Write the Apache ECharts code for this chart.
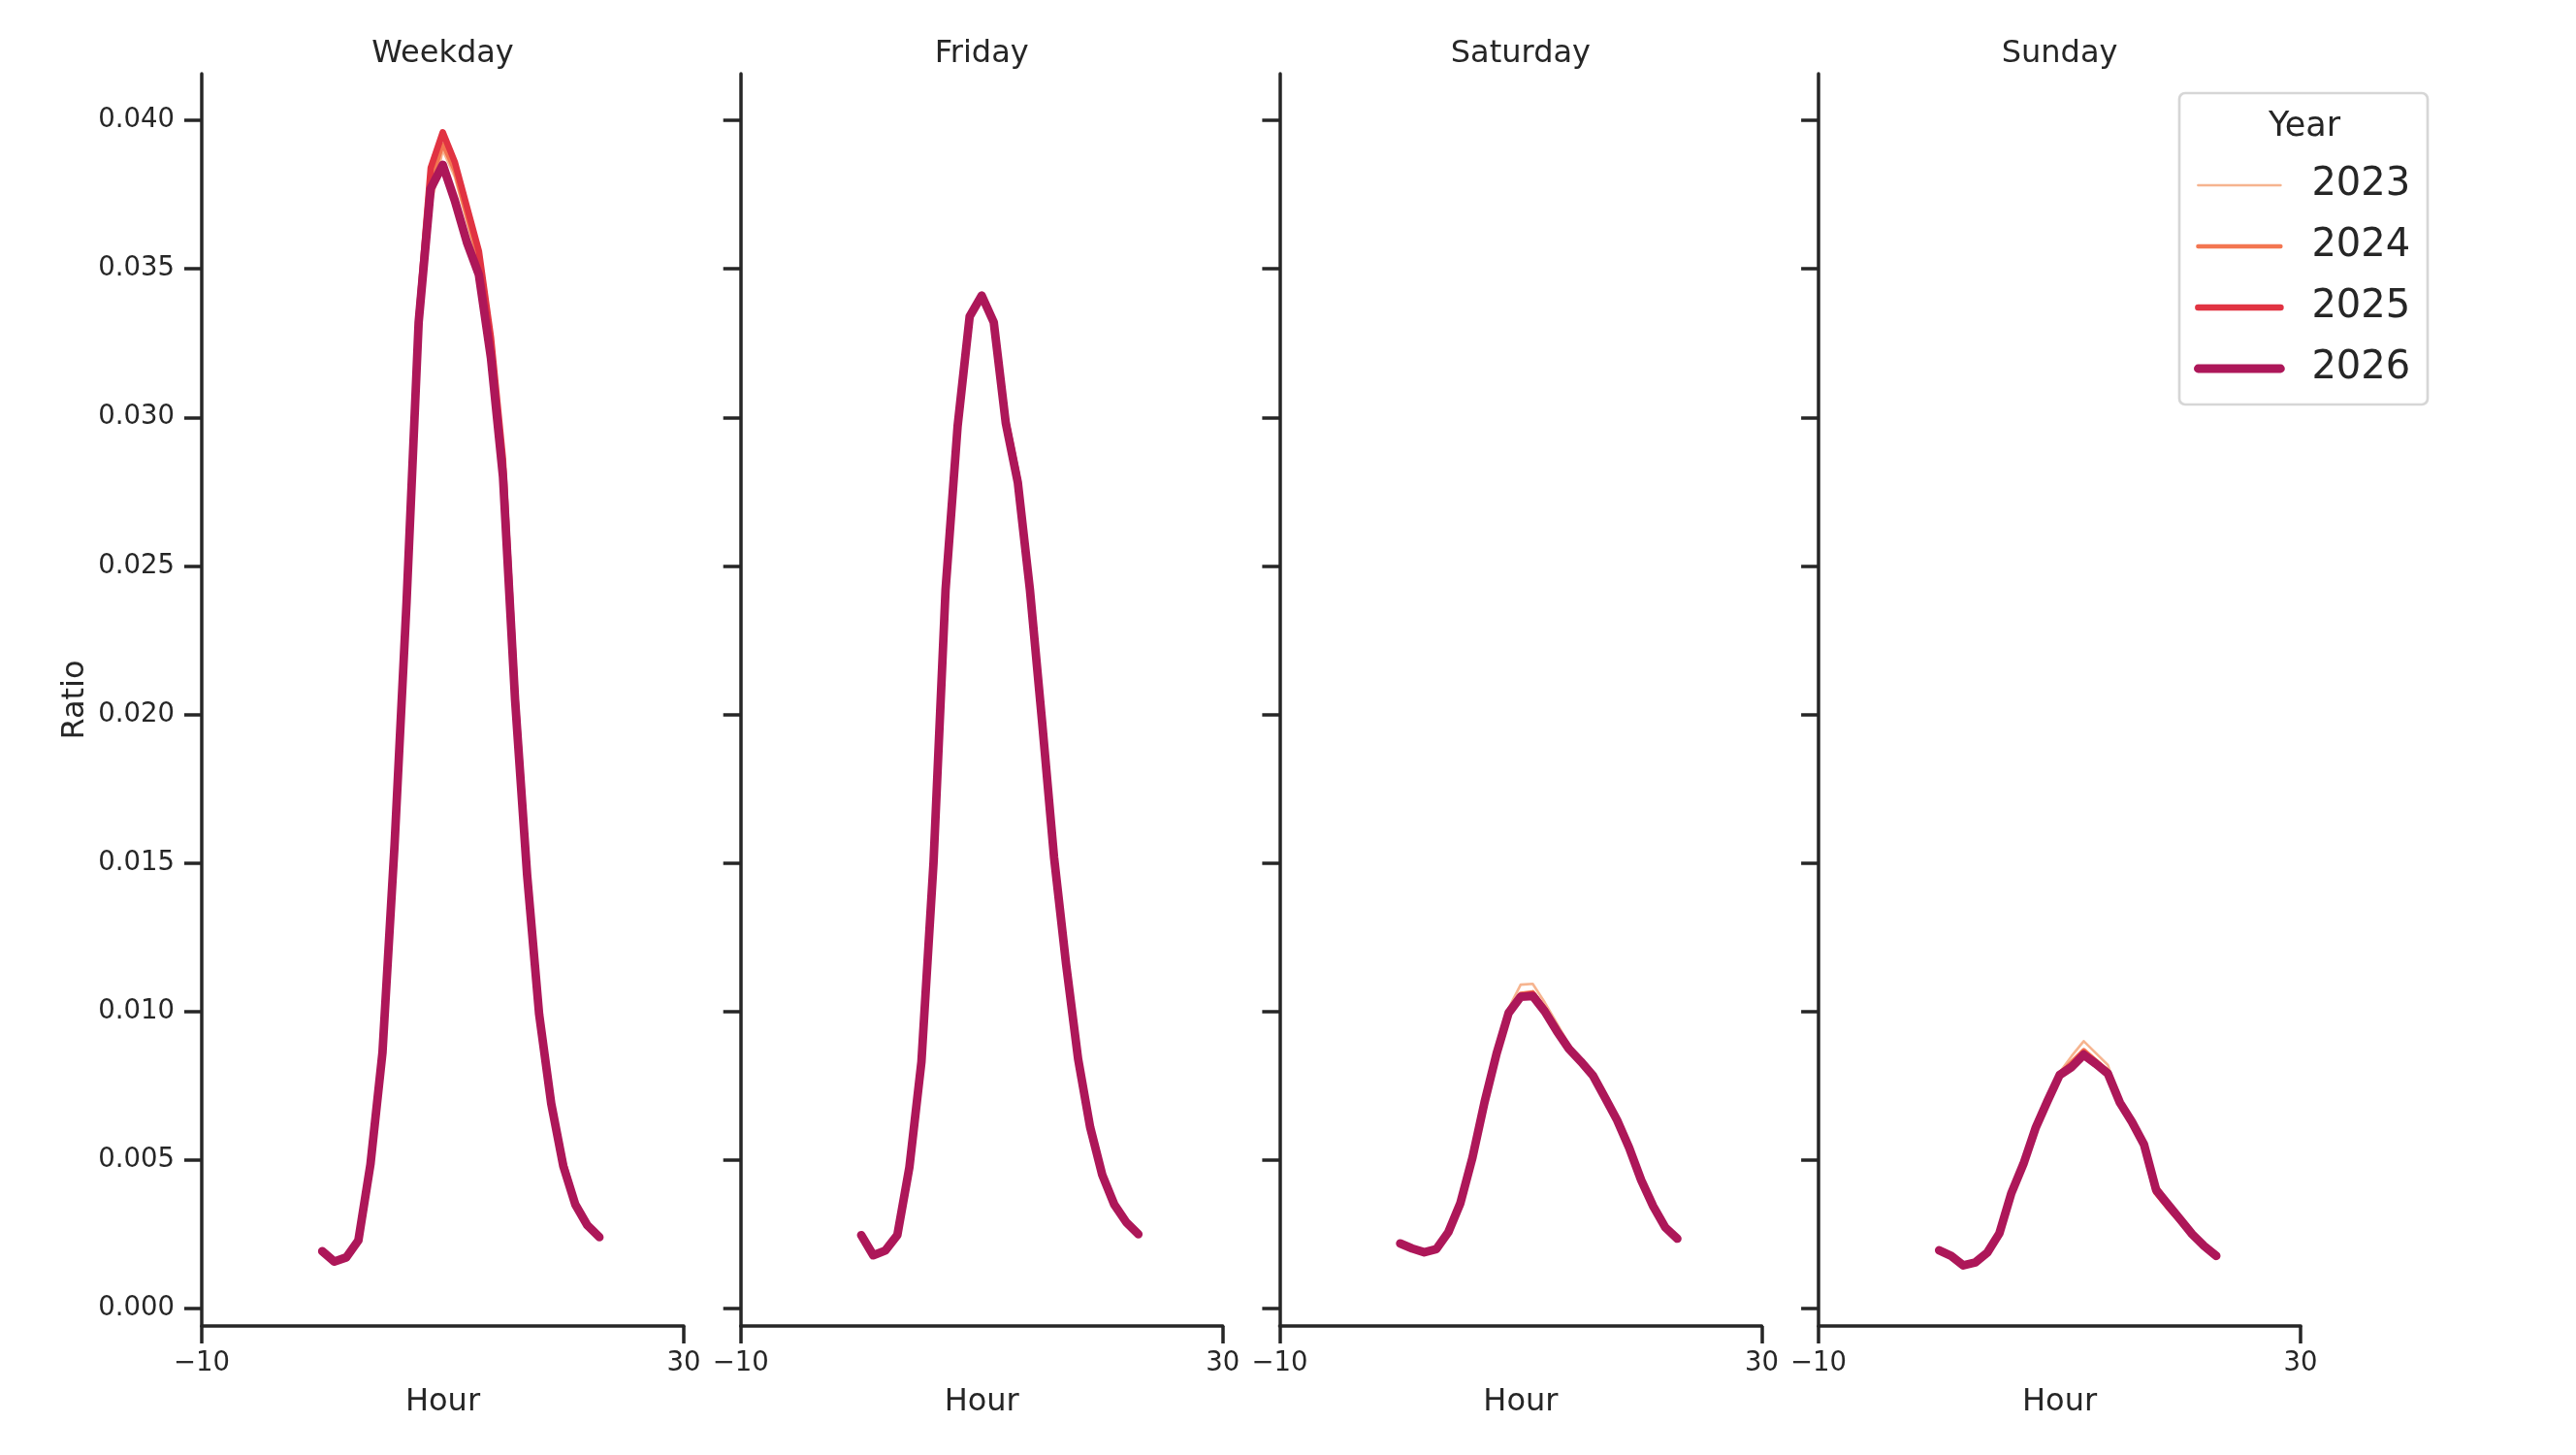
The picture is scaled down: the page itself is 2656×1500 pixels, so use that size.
<!DOCTYPE html>
<html>
<head>
<meta charset="utf-8">
<script src="https://cdn.jsdelivr.net/npm/echarts@6/dist/echarts.min.js"></script>
<style>
  html, body { margin: 0; padding: 0; background: #fff; }
  #chart { width: 2656px; height: 1500px; }
</style>
</head>
<body>
<div id="chart"></div>
<script>
// hours of the day (x values)
var hours = [0, 1, 2, 3, 4, 5, 6, 7, 8, 9, 10, 11, 12, 13, 14, 15, 16, 17, 18, 19, 20, 21, 22, 23]
var panels = ['Weekday', 'Friday', 'Saturday', 'Sunday']
var years = ['2023', '2024', '2025', '2026']
var xTicks = [-10, 30]
var yTicks = [0, 0.005, 0.01, 0.015, 0.02, 0.025, 0.03, 0.035, 0.04]

// ratio per hour
var weekday2023 = [0.00192, 0.00158, 0.00172, 0.00231, 0.00487, 0.00864, 0.0157, 0.0237, 0.0330, 0.0371, 0.0390, 0.0381, 0.0366, 0.0351, 0.0323, 0.0283, 0.0206, 0.0146, 0.0099, 0.0069, 0.0048, 0.0035, 0.0028, 0.0024]
var weekday2024 = [0.00191, 0.00159, 0.00171, 0.00230, 0.00488, 0.00865, 0.0157, 0.0238, 0.0332, 0.0379, 0.0392, 0.0383, 0.0368, 0.0353, 0.0325, 0.0284, 0.0207, 0.0147, 0.0100, 0.0069, 0.0048, 0.0035, 0.0028, 0.0024]
var weekday2025 = [0.00190, 0.00160, 0.00170, 0.00232, 0.00490, 0.00868, 0.0158, 0.0239, 0.0334, 0.0384, 0.0396, 0.0386, 0.0371, 0.0356, 0.0327, 0.0286, 0.0208, 0.0147, 0.0100, 0.0069, 0.0049, 0.0035, 0.0028, 0.0024]
var weekday2026 = [0.00193, 0.00158, 0.00172, 0.00229, 0.00485, 0.00862, 0.0156, 0.0238, 0.0332, 0.0377, 0.0385, 0.0373, 0.0359, 0.0348, 0.0320, 0.0280, 0.0205, 0.0146, 0.0099, 0.0069, 0.0048, 0.0035, 0.0028, 0.0024]

var friday2023 = [0.00245, 0.00180, 0.00196, 0.00249, 0.00478, 0.00834, 0.0150, 0.0242, 0.0297, 0.0335, 0.0340, 0.0332, 0.0299, 0.0278, 0.0242, 0.0198, 0.0152, 0.0116, 0.0084, 0.0061, 0.0045, 0.0035, 0.0029, 0.0025]
var friday2024 = [0.00246, 0.00179, 0.00195, 0.00248, 0.00477, 0.00832, 0.0150, 0.0242, 0.0298, 0.0335, 0.0341, 0.0333, 0.0301, 0.0281, 0.0243, 0.0198, 0.0152, 0.0117, 0.0084, 0.0061, 0.0045, 0.0035, 0.0029, 0.0025]
var friday2025 = [0.00247, 0.00178, 0.00195, 0.00247, 0.00476, 0.00831, 0.0150, 0.0242, 0.0297, 0.0334, 0.0341, 0.0332, 0.0299, 0.0279, 0.0242, 0.0198, 0.0152, 0.0116, 0.0084, 0.0061, 0.0045, 0.0035, 0.0029, 0.0025]
var friday2026 = [0.00247, 0.00179, 0.00195, 0.00247, 0.00476, 0.00831, 0.0150, 0.0242, 0.0297, 0.0334, 0.0341, 0.0332, 0.0298, 0.0278, 0.0242, 0.0198, 0.0152, 0.0116, 0.0084, 0.0061, 0.0045, 0.0035, 0.0029, 0.0025]

var saturday2023 = [0.00221, 0.00200, 0.00187, 0.00203, 0.00262, 0.00358, 0.00510, 0.00700, 0.00870, 0.01010, 0.01090, 0.01093, 0.01030, 0.00960, 0.00890, 0.00835, 0.00785, 0.00712, 0.00636, 0.00543, 0.00433, 0.00345, 0.00274, 0.00236]
var saturday2024 = [0.00220, 0.00201, 0.00188, 0.00201, 0.00259, 0.00356, 0.00509, 0.00697, 0.00862, 0.01000, 0.01060, 0.01065, 0.01010, 0.00940, 0.00878, 0.00832, 0.00784, 0.00711, 0.00635, 0.00542, 0.00432, 0.00344, 0.00273, 0.00235]
var saturday2025 = [0.00219, 0.00202, 0.00189, 0.00200, 0.00258, 0.00355, 0.00508, 0.00695, 0.00860, 0.00998, 0.01052, 0.01058, 0.01005, 0.00936, 0.00875, 0.00831, 0.00784, 0.00710, 0.00634, 0.00541, 0.00432, 0.00344, 0.00273, 0.00235]
var saturday2026 = [0.00219, 0.00202, 0.00189, 0.00200, 0.00257, 0.00355, 0.00508, 0.00694, 0.00858, 0.00995, 0.01049, 0.01052, 0.01000, 0.00934, 0.00874, 0.00831, 0.00784, 0.00710, 0.00634, 0.00541, 0.00432, 0.00344, 0.00273, 0.00235]

var sunday2023 = [0.00197, 0.00176, 0.00146, 0.00156, 0.00190, 0.00256, 0.00392, 0.00490, 0.00612, 0.00705, 0.00795, 0.00850, 0.00900, 0.00860, 0.00820, 0.00700, 0.00632, 0.00556, 0.00420, 0.00360, 0.00302, 0.00252, 0.00211, 0.00178]
var sunday2024 = [0.00196, 0.00177, 0.00145, 0.00155, 0.00189, 0.00254, 0.00390, 0.00488, 0.00609, 0.00701, 0.00790, 0.00830, 0.00870, 0.00835, 0.00800, 0.00696, 0.00630, 0.00554, 0.00405, 0.00353, 0.00300, 0.00250, 0.00210, 0.00177]
var sunday2025 = [0.00195, 0.00176, 0.00144, 0.00154, 0.00188, 0.00253, 0.00389, 0.00487, 0.00607, 0.00699, 0.00788, 0.00818, 0.00860, 0.00828, 0.00793, 0.00693, 0.00628, 0.00550, 0.00392, 0.00342, 0.00296, 0.00248, 0.00208, 0.00175]
var sunday2026 = [0.00196, 0.00177, 0.00145, 0.00155, 0.00188, 0.00253, 0.00389, 0.00487, 0.00607, 0.00699, 0.00786, 0.00813, 0.00854, 0.00824, 0.00791, 0.00693, 0.00628, 0.00552, 0.00400, 0.00350, 0.00300, 0.00250, 0.00210, 0.00177]

var panelData = [
  [weekday2023, weekday2024, weekday2025, weekday2026],
  [friday2023, friday2024, friday2025, friday2026],
  [saturday2023, saturday2024, saturday2025, saturday2026],
  [sunday2023, sunday2024, sunday2025, sunday2026]
]

// rocket palette, thicker line for later year
var yearColors = ['#f6b48f', '#f37651', '#e13342', '#ad1759']
var yearWidths = [2.6, 4.4, 6.6, 8.8]

var FONT = 'DejaVu Sans'
var INK = '#262626'
var gridLeft = 208, gridStep = 555.7, gridW = 497, gridTop = 76, gridBottom = 1367

var grids = [], xAxes = [], yAxes = [], series = [], graphics = []

panels.forEach(function (name, p) {
  var left = gridLeft + p * gridStep
  grids.push({ left: left, top: gridTop, width: gridW, height: gridBottom - gridTop })
  xAxes.push({
    type: 'value', gridIndex: p, min: -10, max: 30,
    name: 'Hour', nameLocation: 'middle', nameGap: 63,
    nameTextStyle: { fontFamily: FONT, fontSize: 32, color: INK },
    axisLine: { onZero: false, lineStyle: { color: INK, width: 3.5 } },
    axisTick: { show: true, length: 18, lineStyle: { color: INK, width: 3.5 }, customValues: xTicks },
    axisLabel: {
      margin: 25, fontFamily: FONT, fontSize: 27.5, color: INK, customValues: xTicks,
      formatter: function (v) { return v < 0 ? '\u2212' + Math.abs(v) : String(v) }
    },
    splitLine: { show: false }
  })
  yAxes.push({
    type: 'value', gridIndex: p, min: -0.00059, max: 0.04157,
    name: p === 0 ? 'Ratio' : '', nameLocation: 'middle', nameGap: 114,
    nameTextStyle: { fontFamily: FONT, fontSize: 32, color: INK },
    axisLine: { show: true, onZero: false, lineStyle: { color: INK, width: 3.5 } },
    axisTick: { show: true, length: 18, lineStyle: { color: INK, width: 3.5 }, customValues: yTicks },
    axisLabel: {
      show: p === 0, margin: 28, fontFamily: FONT, fontSize: 27.5, color: INK, customValues: yTicks,
      formatter: function (v) { return v.toFixed(3) }
    },
    splitLine: { show: false }
  })
  graphics.push({
    type: 'text', x: left + gridW / 2, y: 56,
    style: { text: name, font: '32px "' + FONT + '"', fill: INK, align: 'center', verticalAlign: 'middle' }
  })
  years.forEach(function (yr, k) {
    series.push({
      type: 'line', name: yr, xAxisIndex: p, yAxisIndex: p,
      data: hours.map(function (h, i) { return [h, panelData[p][k][i]] }),
      symbol: 'none', showSymbol: false, silent: true, z: 2 + k,
      lineStyle: { color: yearColors[k], width: yearWidths[k], cap: 'round', join: 'round' },
      itemStyle: { color: yearColors[k] }
    })
  })
})

// legend frame and title
graphics.push({
  type: 'rect', z: 5, shape: { x: 2247, y: 96, width: 256, height: 321, r: 6 },
  style: { fill: '#fff', stroke: '#d6d6d6', lineWidth: 2.7 }
})
graphics.push({
  type: 'text', z: 6, x: 2376, y: 131,
  style: { text: 'Year', font: '35px "' + FONT + '"', fill: INK, align: 'center', verticalAlign: 'middle' }
})

var myChart = echarts.init(document.getElementById('chart'))
myChart.setOption({
  animation: false,
  backgroundColor: '#fff',
  grid: grids,
  xAxis: xAxes,
  yAxis: yAxes,
  series: series,
  graphic: graphics,
  legend: {
    data: years, orient: 'vertical', left: 2257, top: 163, z: 20,
    itemWidth: 85, itemHeight: 14, itemGap: 17, selectedMode: false,
    itemStyle: { opacity: 0 },
    lineStyle: { width: 'inherit', cap: 'round' },
    textStyle: { fontFamily: FONT, fontSize: 40, color: INK, lineHeight: 46, padding: [0, 0, 0, 27] }
  }
})
</script>
</body>
</html>
